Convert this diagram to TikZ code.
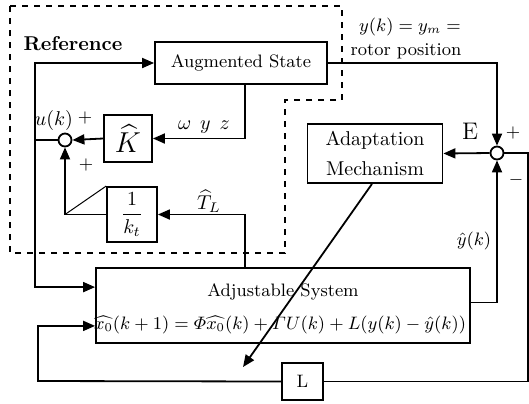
\documentclass[tikz,border=0pt]{standalone}
\usepackage{tikz}
\usetikzlibrary{arrows.meta, positioning}
\usepackage{amsmath}

\begin{document}
\begin{tikzpicture}[x=0.5pt, y=-0.5pt,
    blk/.style={draw, line width=0.9pt, inner sep=0pt},
    sumnode/.style={draw, circle, line width=0.9pt, minimum size=6.5pt, inner sep=0pt},
    arr/.style={line width=0.9pt, -{Triangle[length=6pt, width=5pt]}},
    wire/.style={line width=0.9pt}]
    \useasboundingbox (0,0) rectangle (529,403);

    \draw[dashed, line width=0.6pt] (10,6) -- (342,6) -- (342,100) -- (285,100) -- (285,253) -- (10,253) -- cycle;

    \node[blk, minimum width=86pt, minimum height=21pt, font=\small] (aug) at (241,63) {Augmented State};
    \node[blk, minimum width=24pt, minimum height=23.5pt] (kbox) at (128,138.5) {\Large $\widehat{K}$};
    \node[blk, minimum width=25pt, minimum height=27.5pt] (kt) at (132,214.5) {$\dfrac{1}{k_t}$};
    \node[blk, minimum width=187pt, minimum height=37.5pt] (adj) at (283,305.5) {};
    \node[blk, minimum width=67.5pt, minimum height=29.5pt, align=center] (adapt) at (375,153.5) {Adaptation\\[3pt]Mechanism};
    \node[blk, minimum width=20.5pt, minimum height=18.5pt, font=\small] (lbox) at (302.5,381.5) {L};
    \node[sumnode] (sum1) at (65,140) {};
    \node[sumnode] (sumE) at (497,153) {};

    \node[font=\small] (adjtxt) at (283,292) {Adjustable System};
    \node[font=\fontsize{8.8}{10}\selectfont] (eqn) at (280,325) {$\widehat{x_0}(k+1) = \varPhi\widehat{x_0}(k) + \varGamma U(k) + L(y(k) - \hat{y}(k))$};

    \coordinate (uk) at (35,140);
    \coordinate (lf) at (38,381);
    \coordinate (rt) at (528,153);
    \coordinate (adtip) at (243,367);

    \draw[wire] (sum1.west) -- (uk);
    \draw[arr] (uk) |- (aug.west);
    \draw[arr] (uk) |- ([yshift=-10pt]adj.north west);
    \draw[arr] ([xshift=2pt]aug.south) |- (kbox.east);
    \draw[arr] (kbox.west) -- (sum1.east);
    \draw[arr] ([xshift=-19pt]adj.north) |- (kt.east);
    \draw[arr] (kt.west) -| (sum1.south);
    \draw[line width=0.5pt] (kt.west -| sum1) -- (kt.north west);
    \draw[arr] (aug.east) -| (sumE.north);
    \draw[arr] (sumE.west) -- (adapt.east);
    \draw[arr] ([yshift=1.5pt]adj.east) -| (sumE.south);
    \draw[wire] (sumE.east) -- (rt) |- (lbox.east);
    \draw[arr] (lbox.west) -- (lf) |- ([yshift=9pt]adj.south west);
    \draw[arr] ([xshift=-1.5pt]adapt.south) -- (adtip);

    \node[font=\bfseries] (reflbl) at (73,44) {Reference};
    \node[inner sep=1pt] (uklbl) at (54,120) {$u(k)$};
    \node[font=\small] (p1) at (85,118) {$+$};
    \node[font=\small] (p2) at (86,165) {$+$};
    \node (wyz) at (204,127) {$\omega\;\,y\;\,z$};
    \node (tl) at (209,201) {$\widehat{T}_L$};
    \node[font=\small] (ylbl) at (410,27) {$y(k) = y_m =$};
    \node[font=\small] (rotor) at (406,51) {rotor position};
    \node[font=\large] (elbl) at (470,131) {E};
    \node[font=\small] (p3) at (513,133) {$+$};
    \node[font=\small] (m1) at (516,180) {$-$};
    \node[font=\small, inner sep=1pt] (yhat) at (474,241) {$\hat{y}(k)$};
\end{tikzpicture}
\end{document}
